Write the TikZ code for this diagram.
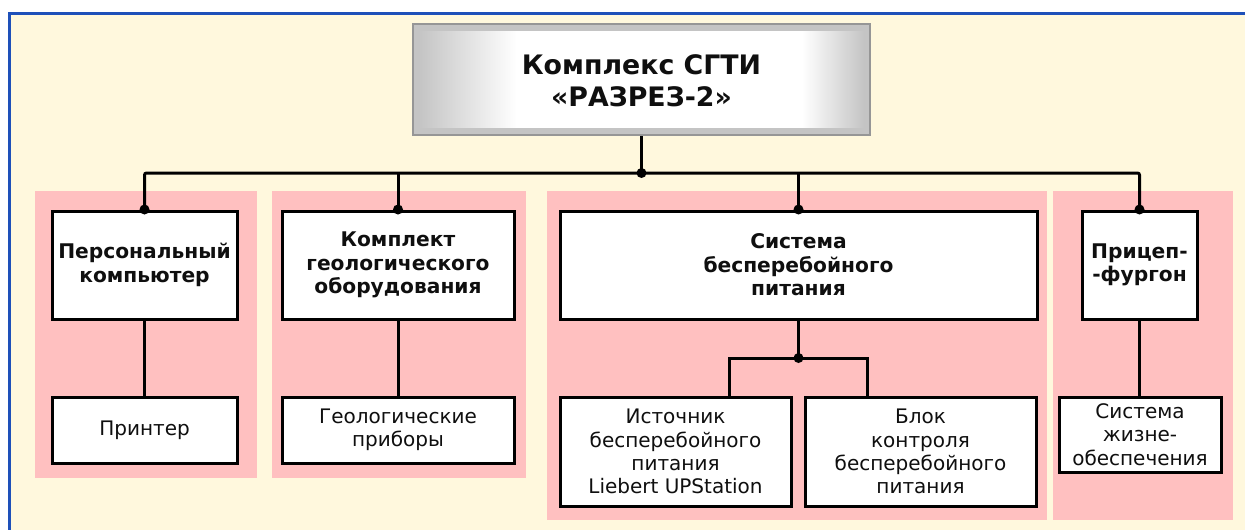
\documentclass[tikz,border=0pt]{standalone}
\usepackage{fontspec}
\setmainfont{DejaVu Sans}
\usetikzlibrary{calc}
\definecolor{cream}{RGB}{255,248,221}
\definecolor{panelpink}{RGB}{255,192,192}
\definecolor{frameblue}{RGB}{30,80,185}
\definecolor{bevel}{RGB}{196,196,196}
\definecolor{bevelline}{RGB}{150,150,150}
\definecolor{ink}{RGB}{15,15,15}
% grey at both sides, white across the middle
\pgfdeclarehorizontalshading{titleshade}{100bp}{color(0bp)=(bevel); color(25bp)=(bevel); color(36bp)=(white); color(68bp)=(white); color(75bp)=(bevel); color(100bp)=(bevel)}
\begin{document}
\begin{tikzpicture}[x=1pt,y=-1pt,
  box/.style={draw=black, line width=3pt, fill=white, align=center, inner sep=0pt, text=ink},
  headbox/.style={box, font=\fontsize{20.2}{23.5}\selectfont\bfseries},
  itembox/.style={box, font=\fontsize{20}{23.3}\selectfont},
  wire/.style={line width=3pt, draw=black},
  joint/.style={circle, fill=black, inner sep=0pt, minimum size=10pt},
  panel/.style={fill=panelpink}]
\useasboundingbox (0,0) rectangle (1245,530);
% page and frame
\fill[white] (0,0) rectangle (1245,530);
\fill[cream] (9.5,13.5) rectangle (1245,530);
\draw[frameblue, line width=3pt] (9.5,531) -- (9.5,13.5) -- (1246,13.5);

% group panels
\fill[panel] (35,190.5) rectangle (257,478);
\fill[panel] (272,190.5) rectangle (526,478);
\fill[panel] (547,190.5) rectangle (1047,520);
\fill[panel] (1053,190.5) rectangle (1233,520);

% title block
\node[minimum width=457pt, minimum height=111pt, fill=bevel, draw=bevelline, line width=2.8pt, inner sep=0pt] (title) at (641.5,79.5) {};
\shade[shading=titleshade] ($(title.north west)+(7,9)$) rectangle ($(title.south east)+(-7,-9)$);
\node[font=\fontsize{26.8}{32}\selectfont\bfseries, text=ink, align=center] (titletext) at (641.5,81) {Комплекс СГТИ\\«РАЗРЕЗ-2»};

% first level
\node[headbox, minimum width=185pt, minimum height=108pt] (pc) at (144.5,265) {Персональный\\компьютер};
\node[headbox, minimum width=232pt, minimum height=108pt] (kit) at (398,265) {Комплект\\геологического\\оборудования};
\node[headbox, minimum width=477pt, minimum height=108pt] (ups) at (798.5,265) {Система\\бесперебойного\\питания};
\node[headbox, minimum width=115pt, minimum height=108pt] (trailer) at (1139.5,265) {Прицеп-\\-фургон};

% second level
\node[itembox, minimum width=185pt, minimum height=66pt] (printer) at (144.5,430) {Принтер};
\node[itembox, minimum width=232pt, minimum height=66pt] (geo) at (398,430) {Геологические\\приборы};
\node[itembox, minimum width=231pt, minimum height=109pt] (src) at (675.5,451.5) {Источник\\бесперебойного\\питания\\Liebert UPStation};
\node[itembox, minimum width=231pt, minimum height=109pt] (ctl) at (920.5,451.5) {Блок\\контроля\\бесперебойного\\питания};
\node[itembox, minimum width=162pt, minimum height=75pt] (life) at (1140,434.5) {Система\\жизне-\\обеспечения};

% main bus
\node[joint] (hub) at (641.5,173) {};
\draw[wire] (title.south) -- (hub.center);
\draw[wire, rounded corners=2pt] (pc.north) |- (hub.center) -| (trailer.north);
\draw[wire] (kit.north) -- (kit.north |- hub.center);
\draw[wire] (ups.north) -- (ups.north |- hub.center);
\node[joint] (jpc) at (pc.north) {};
\node[joint] (jkit) at (kit.north) {};
\node[joint] (jups) at (ups.north) {};
\node[joint] (jtr) at (trailer.north) {};

% branches
\draw[wire] (pc.south) -- (printer.north);
\draw[wire] (kit.south) -- (geo.north);
\draw[wire] (trailer.south) -- (trailer.south |- life.north);
\node[joint] (subhub) at (798.5,358) {};
\coordinate (subl) at (729,358);
\coordinate (subr) at (867,358);
\draw[wire] (ups.south) -- (subhub.center);
\draw[wire] (subl |- src.north) -- (subl) -- (subr) -- (subr |- ctl.north);
\end{tikzpicture}
\end{document}
